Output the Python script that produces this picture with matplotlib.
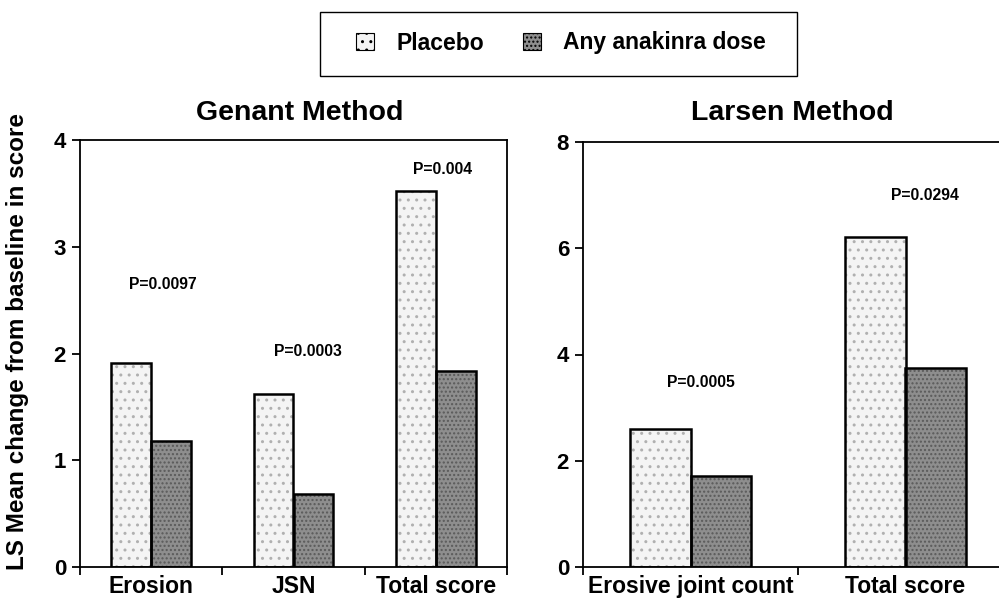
import matplotlib
matplotlib.use("Agg")
import matplotlib.pyplot as plt
from matplotlib.patches import Patch, Rectangle
import numpy as np

plt.rcParams['font.family'] = ['Liberation Sans', 'DejaVu Sans']
plt.rcParams['font.weight'] = 'bold'

series_names = ["Placebo", "Any anakinra dose"]

genant_categories = ["Erosion", "JSN", "Total score"]
genant_placebo = [1.91, 1.62, 3.52]
genant_anakinra = [1.18, 0.68, 1.84]
genant_pvalues = ["P=0.0097", "P=0.0003", "P=0.004"]
genant_p_y = [2.65, 2.02, 3.72]
genant_p_x = [0.08, 0.1, 0.05]

larsen_categories = ["Erosive joint count", "Total score"]
larsen_placebo = [2.60, 6.22]
larsen_anakinra = [1.72, 3.74]
larsen_pvalues = ["P=0.0005", "P=0.0294"]
larsen_p_y = [3.48, 7.0]
larsen_p_x = [0.05, 0.09]

placebo_color = "#f4f4f4"
anakinra_color = "#8e8e8e"

fig = plt.figure(figsize=(9.99, 5.99), dpi=100)
ax1 = fig.add_axes([80/999, 1-567/599, 427/999, 427/599])
ax2 = fig.add_axes([583/999, 1-567/599, 430/999, 425/599])

def draw(ax, cats, pl, an, pv, py, px, ymax, title, title_x):
    n = len(cats)
    x = np.arange(n) + 0.5
    w = 0.28
    ax.bar(x - w/2, pl, w, color=placebo_color, edgecolor="#b0b0b0", hatch="..", linewidth=0)
    ax.bar(x + w/2, an, w, color=anakinra_color, edgecolor="#5a5a5a", hatch="....", linewidth=0)
    ax.bar(x - w/2, pl, w, fill=False, edgecolor="black", linewidth=1.8)
    ax.bar(x + w/2, an, w, fill=False, edgecolor="black", linewidth=1.8)
    for i in range(n):
        ax.text(x[i] + px[i], py[i], pv[i], ha="center", va="center", fontsize=11.3, fontweight="bold")
    ax.set_xlim(0, n)
    ax.set_ylim(0, ymax)
    ax.set_xticks(np.arange(n + 1))
    ax.set_xticklabels([])
    ax.set_xticks(x, minor=True)
    ax.set_xticklabels(cats, minor=True, fontsize=16.5, fontweight="bold")
    ax.tick_params(axis="x", which="minor", length=0, pad=5.5)
    ax.tick_params(axis="x", which="major", length=6, width=1.3, direction="out")
    ax.tick_params(axis="y", length=6, width=1.3, direction="out", labelsize=16, pad=4)
    for s in ax.spines.values():
        s.set_linewidth(1.3)
    fig.text(title_x, 1-113/599, title, ha="center", va="center", fontsize=20.5, fontweight="bold")

draw(ax1, genant_categories, genant_placebo, genant_anakinra, genant_pvalues,
     genant_p_y, genant_p_x, 4, "Genant Method", 300/999)
ax1.set_yticks([0, 1, 2, 3, 4])
for lab in ax1.get_yticklabels():
    lab.set_fontweight("bold")
draw(ax2, larsen_categories, larsen_placebo, larsen_anakinra, larsen_pvalues,
     larsen_p_y, larsen_p_x, 8, "Larsen Method", 792/999)
ax2.set_yticks([0, 2, 4, 6, 8])
for lab in ax2.get_yticklabels():
    lab.set_fontweight("bold")

fig.text(18/999, 1-341/599, "LS Mean change from baseline in score", rotation=90,
         ha="center", va="center", fontsize=17.5, fontweight="bold")

# legend frame
fig.patches.append(Rectangle((320/999, 1-76/599), 477/999, 64/599, transform=fig.transFigure,
                             fill=False, edgecolor="black", linewidth=1.0))
handles = [Patch(facecolor=placebo_color, edgecolor="black", hatch="..", linewidth=0.8),
           Patch(facecolor=anakinra_color, edgecolor="black", hatch="....", linewidth=0.8)]
leg = fig.legend(handles, series_names, loc="center", bbox_to_anchor=(561/999, 1-43/599),
                 ncol=2, frameon=False, fontsize=16.5,
                 handlelength=0.79, handleheight=0.79, handletextpad=0.96, columnspacing=1.7,
                 borderpad=0.2, borderaxespad=0)
for t in leg.get_texts():
    t.set_fontweight("bold")

fig.savefig("out.png", dpi=100)
